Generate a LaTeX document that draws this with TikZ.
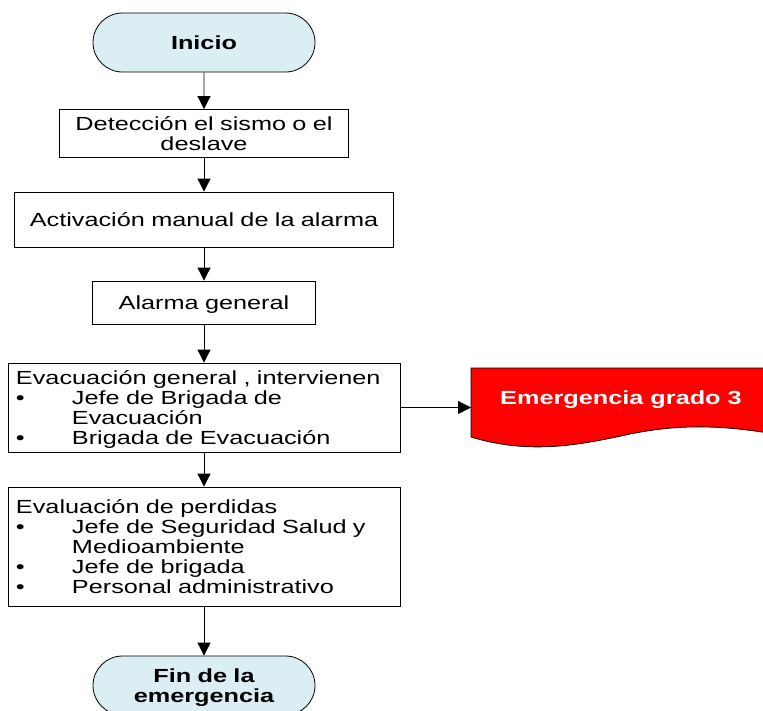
\documentclass[tikz,border=0pt]{standalone}
\usepackage{fontspec}
\setmainfont[FakeStretch=1.33]{Liberation Sans}
\usetikzlibrary{arrows.meta,shapes.misc}
\definecolor{celeste}{RGB}{218,238,243}
\definecolor{rojo}{RGB}{255,0,0}
\newcommand{\vin}{\makebox[56pt][l]{\textbullet}}
\newcommand{\sangria}{\hspace*{56pt}}

\begin{document}
\begin{tikzpicture}[x=1pt,y=-1pt,
  font=\fontsize{19}{20}\selectfont,
  every node/.style={execute at begin node={\rule{0pt}{20pt}}, execute at end node={\rule[-6pt]{0pt}{0pt}}},
  caja/.style={draw, line width=0.8pt, align=center, inner sep=1pt},
  lista/.style={draw, line width=0.8pt, align=left, text width=376pt, inner xsep=8pt, inner ysep=1pt},
  term/.style={draw, line width=0.8pt, fill=celeste, rounded rectangle, minimum width=222pt, minimum height=59pt, text width=160pt, font=\fontsize{19}{20}\selectfont\bfseries, align=center, inner sep=0pt},
  flecha/.style={-{Triangle[length=13pt,width=13pt]}, line width=0.8pt}]
  \useasboundingbox (0,0) rectangle (763,710);

  \node[term] (inicio) at (204,42.5) {Inicio};
  \node[caja, text width=287pt, minimum height=45pt] (deteccion) at (204,133.5) {Detección el sismo o el\\deslave};
  \node[caja, text width=377pt, minimum height=55pt] (activacion) at (204,219.5) {Activación manual de la alarma};
  \node[caja, text width=221pt, minimum height=43pt] (alarma) at (204,302.5) {Alarma general};
  \node[lista, minimum height=89pt] (evacuacion) at (204,407.5) {Evacuación general , intervienen\\
    \vin Jefe de Brigada de\\ \sangria Evacuación\\ \vin Brigada de Evacuación};
  \node[lista, minimum height=119pt] (evaluacion) at (204,546.5) {Evaluación de perdidas\\
    \vin Jefe de Seguridad Salud y\\ \sangria Medioambiente\\ \vin Jefe de brigada\\ \vin Personal administrativo};
  \node[term] (fin) at (204,685.5) {Fin de la\\emergencia};

  \filldraw[fill=rojo, line width=0.8pt] (471,368) -- (775,368) -- (775,434)
    .. controls (720,425) and (680,424) .. (630,434)
    .. controls (580,445) and (530,455) .. (471,437) -- cycle;
  \node[font=\fontsize{19}{20}\selectfont\bfseries, text=white] (emergencia) at (621,397.5) {Emergencia grado 3};
  \coordinate (entrada) at (471,407.5);

  \draw[flecha] (inicio) -- (deteccion);
  \draw[flecha] (deteccion) -- (activacion);
  \draw[flecha] (activacion) -- (alarma);
  \draw[flecha] (alarma) -- (evacuacion);
  \draw[flecha] (evacuacion) -- (evaluacion);
  \draw[flecha] (evaluacion) -- (fin);
  \draw[flecha] (evacuacion.east) -- (entrada);
\end{tikzpicture}
\end{document}
